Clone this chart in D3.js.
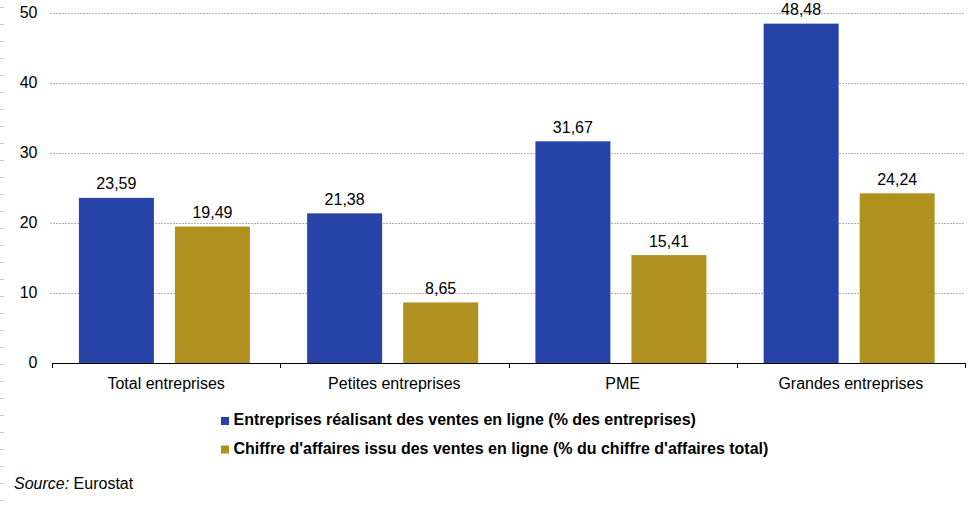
<!DOCTYPE html>
<html>
<head>
    <meta charset="utf-8">
    <title>Ventes en ligne</title>
    <script src="https://d3js.org/d3.v7.min.js"></script>
    <style>
        body { margin: 0; background: #fff; }
        text { font-family: "Liberation Sans", Arial, sans-serif; font-size: 16px; fill: #000; }
        .grid line { stroke: #b4b4b4; stroke-dasharray: 2,1; stroke-width: 1; }
        .legend text { font-weight: bold; }
    </style>
</head>
<body>
    <svg width="976" height="505"></svg>

    <script>
        // Data
        const categories = ["Total entreprises", "Petites entreprises", "PME", "Grandes entreprises"];
        const seriesNames = [
            "Entreprises réalisant des ventes en ligne (% des entreprises)",
            "Chiffre d'affaires issu des ventes en ligne (% du chiffre d'affaires total)"
        ];
        const ventesEntreprises = [23.59, 21.38, 31.67, 48.48];
        const chiffreAffaires = [19.49, 8.65, 15.41, 24.24];
        const yTicks = [0, 10, 20, 30, 40, 50];
        const colors = ["#2843a7", "#b0911f"];

        const seriesValues = [ventesEntreprises, chiffreAffaires];

        const svg = d3.select("svg");
        const plotLeft = 52, plotRight = 965, plotTop = 13, plotBottom = 363;

        const x0 = d3.scaleBand()
            .domain(categories)
            .range([plotLeft, plotRight]);

        const x1 = d3.scaleBand()
            .domain(d3.range(seriesNames.length))
            .range([0, x0.bandwidth()])
            .paddingInner(0.219)
            .paddingOuter(0.298)
            .align(0.47);

        const y = d3.scaleLinear()
            .domain([0, 50])
            .range([plotBottom, plotTop]);

        // little marks down the left edge
        svg.append("g")
            .selectAll("line")
            .data(d3.range(7, 505, 17))
            .enter().append("line")
            .attr("x1", 0).attr("x2", 4)
            .attr("y1", d => d + 0.5)
            .attr("y2", d => d + 0.5)
            .attr("stroke", "#c8c8c8");

        // Gridlines
        svg.append("g")
            .attr("class", "grid")
            .selectAll("line")
            .data(yTicks.filter(d => d > 0))
            .enter().append("line")
            .attr("x1", plotLeft - 2)
            .attr("x2", plotRight)
            .attr("y1", d => Math.round(y(d)) + 0.5)
            .attr("y2", d => Math.round(y(d)) + 0.5);

        // Y axis labels
        svg.append("g")
            .selectAll("text")
            .data(yTicks)
            .enter().append("text")
            .attr("x", 37.5)
            .attr("y", d => y(d) + 4.5)
            .attr("text-anchor", "end")
            .text(d => d);

        // Bars
        const groups = svg.append("g")
            .selectAll("g")
            .data(categories)
            .enter().append("g")
            .attr("transform", d => `translate(${x0(d)},0)`);

        groups.selectAll("rect")
            .data((d, i) => seriesValues.map((vals, s) => ({ s: s, v: vals[i] })))
            .enter().append("rect")
            .attr("x", d => x1(d.s))
            .attr("width", x1.bandwidth())
            .attr("y", d => y(d.v))
            .attr("height", d => y(0) - y(d.v))
            .attr("fill", d => colors[d.s]);

        groups.selectAll("text.val")
            .data((d, i) => seriesValues.map((vals, s) => ({ s: s, v: vals[i] })))
            .enter().append("text")
            .attr("class", "val")
            .attr("x", d => x1(d.s) + x1.bandwidth() / 2)
            .attr("y", d => y(d.v) - 8.5)
            .attr("text-anchor", "middle")
            .text(d => d3.format(".2f")(d.v).replace(".", ","));

        // X axis
        const xAxis = svg.append("g");
        xAxis.append("line")
            .attr("x1", plotLeft).attr("x2", plotRight)
            .attr("y1", plotBottom + 0.5).attr("y2", plotBottom + 0.5)
            .attr("stroke", "#000");

        const boundaries = categories.map(c => x0(c)).concat([plotRight]);
        xAxis.selectAll("line.tick")
            .data(boundaries)
            .enter().append("line")
            .attr("class", "tick")
            .attr("x1", d => Math.round(d) + 0.5).attr("x2", d => Math.round(d) + 0.5)
            .attr("y1", plotBottom).attr("y2", plotBottom + 5)
            .attr("stroke", "#000");

        xAxis.selectAll("text")
            .data(categories)
            .enter().append("text")
            .attr("x", d => x0(d) + x0.bandwidth() / 2)
            .attr("y", 389)
            .attr("text-anchor", "middle")
            .text(d => d);

        // Legend
        const legend = svg.append("g")
            .attr("class", "legend")
            .selectAll("g")
            .data(seriesNames)
            .enter().append("g")
            .attr("transform", (d, i) => `translate(221,${425 + i * 28.5})`);

        legend.append("rect")
            .attr("x", 0).attr("y", -8)
            .attr("width", 8).attr("height", 8)
            .attr("fill", (d, i) => colors[i]);

        legend.append("text")
            .attr("x", 12.5)
            .attr("y", 0)
            .text(d => d);

        // Source
        const src = svg.append("text")
            .attr("x", 14)
            .attr("y", 488.5);
        src.append("tspan").style("font-style", "italic").text("Source:");
        src.append("tspan").text(" Eurostat");
    </script>
</body>
</html>
